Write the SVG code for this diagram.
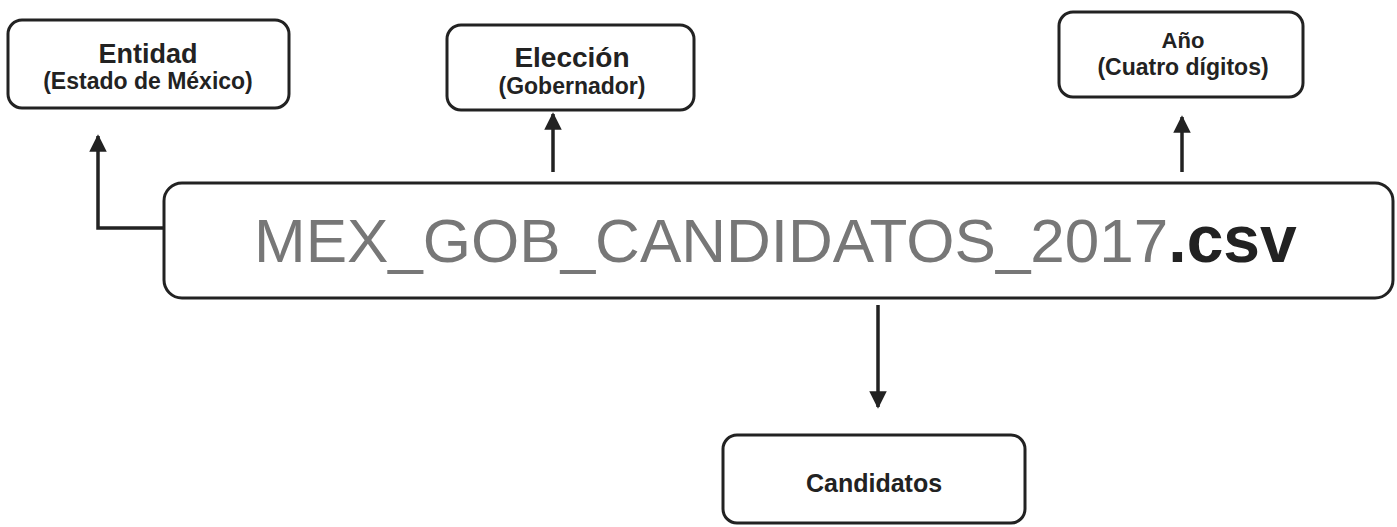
<svg xmlns="http://www.w3.org/2000/svg" width="1397" height="527" viewBox="0 0 1397 527">
  <style>
    .box { fill: #ffffff; stroke: #222222; stroke-width: 3; }
    .t1 { font-family: "Liberation Sans", Arial, sans-serif; font-weight: bold; fill: #222222; text-anchor: middle; }
    .main { font-family: "Liberation Sans", Arial, sans-serif; fill: #777777; }
    .ext { font-family: "Liberation Sans", Arial, sans-serif; font-weight: bold; fill: #222222; }
    .conn { fill: none; stroke: #222222; stroke-width: 3.5; }
  </style>
  <defs>
    <marker id="arrow" viewBox="0 0 10 10" refX="9" refY="5" markerWidth="5" markerHeight="5" markerUnits="strokeWidth" orient="auto">
      <path d="M0,0 L10,5 L0,10 z" fill="#222222"/>
    </marker>
  </defs>
  <rect width="1397" height="527" fill="#ffffff"/>

  <g id="connectors">
    <path class="conn" d="M164,228 H98 V136" marker-end="url(#arrow)"/>
    <path class="conn" d="M553,172 V114" marker-end="url(#arrow)"/>
    <path class="conn" d="M1182,172 V117" marker-end="url(#arrow)"/>
    <path class="conn" d="M878,305 V407" marker-end="url(#arrow)"/>
  </g>

  <g id="entidad">
    <rect class="box" x="8" y="20" width="281" height="88" rx="14"/>
    <text class="t1" x="148" y="63" font-size="27">Entidad</text>
    <text class="t1" x="148" y="89" font-size="23">(Estado de México)</text>
  </g>

  <g id="eleccion">
    <rect class="box" x="447" y="25" width="247" height="85" rx="14"/>
    <text class="t1" x="572" y="67" font-size="28">Elección</text>
    <text class="t1" x="572" y="94" font-size="23">(Gobernador)</text>
  </g>

  <g id="anio">
    <rect class="box" x="1059" y="12" width="244" height="85" rx="14"/>
    <text class="t1" x="1183" y="48" font-size="22">Año</text>
    <text class="t1" x="1183" y="75" font-size="23">(Cuatro dígitos)</text>
  </g>

  <g id="archivo">
    <rect class="box" x="164" y="183" width="1229" height="115" rx="18"/>
    <text x="254" y="262" font-size="62"><tspan class="main">MEX_GOB_CANDIDATOS_2017</tspan><tspan class="ext" font-size="66">.csv</tspan></text>
  </g>

  <g id="candidatos">
    <rect class="box" x="723" y="435" width="302" height="88" rx="14"/>
    <text class="t1" x="874" y="492" font-size="25">Candidatos</text>
  </g>
</svg>
